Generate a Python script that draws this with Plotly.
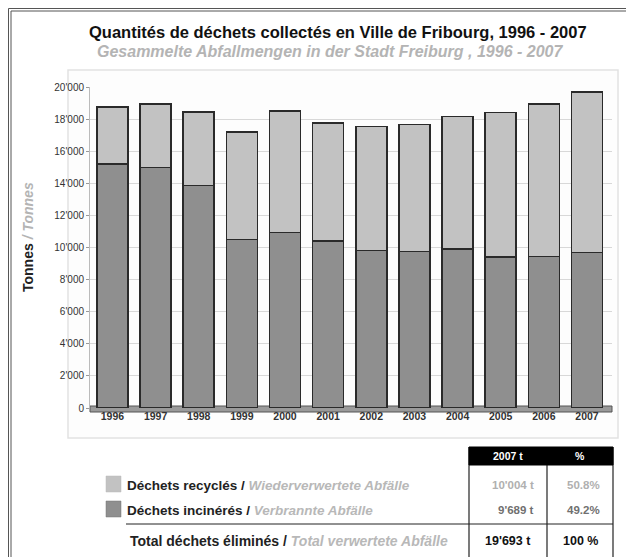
import plotly.graph_objects as go

OFF = 8  # browser body margin
W, H = 634 - OFF, 557 - OFF

years = ["1996", "1997", "1998", "1999", "2000", "2001", "2002", "2003", "2004", "2005", "2006", "2007"]
incinerated = [15200, 15000, 13850, 10500, 10950, 10400, 9800, 9750, 9900, 9400, 9450, 9689]
recycled = [3550, 3950, 4600, 6700, 7550, 7350, 7750, 7900, 8250, 9000, 9500, 10004]

y_tickvals = [0, 2000, 4000, 6000, 8000, 10000, 12000, 14000, 16000, 18000, 20000]
y_ticktext = ["0", "2'000", "4'000", "6'000", "8'000", "10'000", "12'000", "14'000", "16'000", "18'000", "20'000"]

row_fr = ["Déchets recyclés", "Déchets incinérés", "Total déchets éliminés"]
row_de = ["Wiederverwertete Abfälle", "Verbrannte Abfälle", "Total verwertete Abfälle"]
col_tonnes = ["10'004 t", "9'689 t", "19'693 t"]
col_pct = ["50.8%", "49.2%", "100 %"]
col_headers = ["2007 t", "%"]

C_REC = "#c2c2c2"
C_INC = "#8f8f8f"
FONT = "Liberation Sans, Arial, sans-serif"


def px(x):
    return (x - OFF) / W


def py(y):
    return 1 - (y - OFF) / H


fig = go.Figure()
fig.add_trace(go.Bar(x=years, y=incinerated, name="incinerated",
                     marker=dict(color=C_INC, line=dict(color="#2a2a2a", width=1.5)),
                     width=0.72))
fig.add_trace(go.Bar(x=years, y=recycled, name="recycled",
                     marker=dict(color=C_REC, line=dict(color="#2a2a2a", width=1.5)),
                     width=0.72))

shapes = []
# outer double frame
shapes.append(dict(type="rect", xref="paper", yref="paper", x0=px(8.5), x1=px(631), y0=py(560), y1=py(8.5),
                   line=dict(color="#555", width=1), layer="below"))
shapes.append(dict(type="rect", xref="paper", yref="paper", x0=px(11), x1=px(627), y0=py(560), y1=py(11),
                   line=dict(color="#555", width=1), layer="below"))
# chart panel
shapes.append(dict(type="rect", xref="paper", yref="paper", x0=px(68), x1=px(618), y0=py(438), y1=py(70),
                   line=dict(color="#e2e2e2", width=1.5), fillcolor="#fdfdfd", layer="below"))
# floor
shapes.append(dict(type="rect", xref="paper", yref="paper", x0=px(90), x1=px(612), y0=py(412), y1=py(406),
                   line=dict(color="#555", width=1), fillcolor="#9a9a9a", layer="below"))
# legend squares
shapes.append(dict(type="rect", xref="paper", yref="paper", x0=px(106), x1=px(121), y0=py(492), y1=py(476),
                   line=dict(color="#bbb", width=0.5), fillcolor=C_REC))
shapes.append(dict(type="rect", xref="paper", yref="paper", x0=px(106), x1=px(121), y0=py(517), y1=py(501),
                   line=dict(color="#777", width=0.5), fillcolor=C_INC))
# table separators
shapes.append(dict(type="line", xref="paper", yref="paper", x0=px(126), x1=px(613), y0=py(524), y1=py(524),
                   line=dict(color="#222", width=1)))
for xv in (469, 547, 613):
    shapes.append(dict(type="line", xref="paper", yref="paper", x0=px(xv), x1=px(xv), y0=py(560), y1=py(447),
                       line=dict(color="#222", width=1.2)))
# header cells
shapes.append(dict(type="rect", xref="paper", yref="paper", x0=px(469), x1=px(547), y0=py(465), y1=py(447),
                   line=dict(color="#000", width=1), fillcolor="#000"))
shapes.append(dict(type="rect", xref="paper", yref="paper", x0=px(547), x1=px(613), y0=py(465), y1=py(447),
                   line=dict(color="#000", width=1), fillcolor="#000"))

annotations = []
annotations.append(dict(text="<b>Quantités de déchets collectés en Ville de Fribourg, 1996 - 2007</b>",
                        x=px(338), y=py(32), xref="paper", yref="paper", showarrow=False,
                        font=dict(size=16.5, color="#111", family=FONT), xanchor="center", yanchor="middle"))
annotations.append(dict(text="<b><i>Gesammelte Abfallmengen in der Stadt Freiburg , 1996 - 2007</i></b>",
                        x=px(330), y=py(51), xref="paper", yref="paper", showarrow=False,
                        font=dict(size=16, color="#b4b4b4", family=FONT), xanchor="center", yanchor="middle"))
annotations.append(dict(text="<b>Tonnes</b> <span style='color:#b4b4b4'><b><i>/ Tonnes</i></b></span>",
                        x=px(28), y=py(237), xref="paper", yref="paper", showarrow=False, textangle=-90,
                        font=dict(size=14, color="#222", family=FONT), xanchor="center", yanchor="middle"))

row_y = [485, 510, 541]
row_size = [13.5, 13.5, 14]
for i in range(3):
    xstart = 125 if i < 2 else 128
    annotations.append(dict(
        text=f"<b>{row_fr[i]} /</b> <span style='color:#b8b8b8'><b><i>{row_de[i]}</i></b></span>",
        x=px(xstart), y=py(row_y[i]), xref="paper", yref="paper", showarrow=False,
        font=dict(size=row_size[i], color="#222", family=FONT), xanchor="left", yanchor="middle"))

val_colors = ["#b0b0b0", "#707070", "#111"]
for i in range(3):
    if i < 2:
        annotations.append(dict(text=f"<b>{col_tonnes[i]}</b>", x=px(536), y=py(row_y[i]), xref="paper",
                                yref="paper", showarrow=False, xanchor="right", yanchor="middle",
                                font=dict(size=11.5, color=val_colors[i], family=FONT)))
        annotations.append(dict(text=f"<b>{col_pct[i]}</b>", x=px(602), y=py(row_y[i]), xref="paper",
                                yref="paper", showarrow=False, xanchor="right", yanchor="middle",
                                font=dict(size=11.5, color=val_colors[i], family=FONT)))
    else:
        annotations.append(dict(text=f"<b>{col_tonnes[i]}</b>", x=px(508), y=py(row_y[i]), xref="paper",
                                yref="paper", showarrow=False, xanchor="center", yanchor="middle",
                                font=dict(size=12.5, color=val_colors[i], family=FONT)))
        annotations.append(dict(text=f"<b>{col_pct[i]}</b>", x=px(580), y=py(row_y[i]), xref="paper",
                                yref="paper", showarrow=False, xanchor="center", yanchor="middle",
                                font=dict(size=12.5, color=val_colors[i], family=FONT)))
annotations.append(dict(text=f"<b>{col_headers[0]}</b>", x=px(508), y=py(456), xref="paper", yref="paper",
                        showarrow=False, xanchor="center", yanchor="middle",
                        font=dict(size=10.5, color="#fff", family=FONT)))
annotations.append(dict(text=f"<b>{col_headers[1]}</b>", x=px(580), y=py(456), xref="paper", yref="paper",
                        showarrow=False, xanchor="center", yanchor="middle",
                        font=dict(size=10.5, color="#fff", family=FONT)))

fig.update_layout(
    width=W, height=H,
    margin=dict(l=0, r=0, t=0, b=0),
    paper_bgcolor="#ffffff",
    plot_bgcolor="rgba(0,0,0,0)",
    barmode="stack",
    showlegend=False,
    font=dict(family=FONT),
    shapes=shapes,
    annotations=annotations,
    xaxis=dict(domain=[px(90), px(612)], range=[-0.52, 11.58], type="category",
               showgrid=False, zeroline=False, showline=False, ticks="",
               tickfont=dict(size=10.5, color="#333", family=FONT), tickprefix="<b>", ticksuffix="</b>",
               automargin=False),
    yaxis=dict(domain=[py(408), py(87)], range=[0, 20000], tickvals=y_tickvals, ticktext=y_ticktext,
               showgrid=True, gridcolor="#d8d8d8", gridwidth=1, zeroline=False,
               showline=True, linecolor="#bbb", linewidth=1, ticks="outside", ticklen=3, tickcolor="#999",
               tickfont=dict(size=10, color="#333", family=FONT), tickprefix="<b>", ticksuffix="</b>",
               automargin=False),
)

fig.write_html("out.html")
